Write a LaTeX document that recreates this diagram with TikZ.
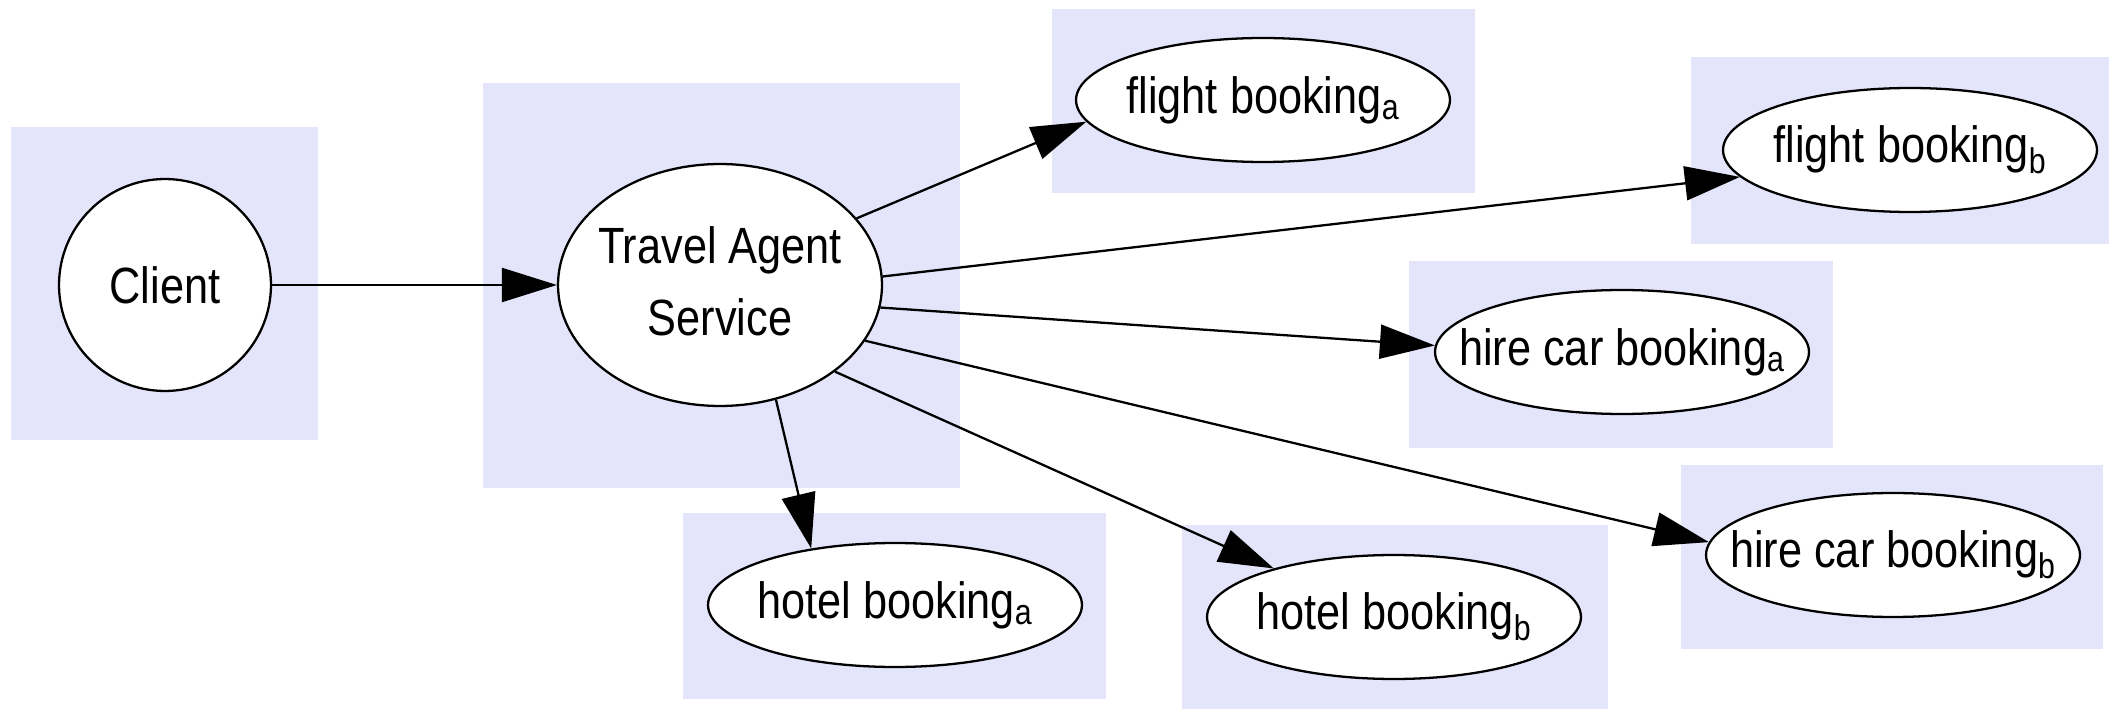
\documentclass[tikz,border=0pt]{standalone}
\usepackage{fontspec}
\setmainfont[FakeStretch=0.85]{Liberation Sans}
\usetikzlibrary{shapes.geometric,arrows.meta}

\definecolor{lav}{RGB}{228,228,250}

\newcommand{\booklabel}[2]{\makebox[0pt]{#1\textsubscript{#2}}}

\tikzset{
  cluster/.style={fill=lav},
  booking/.style={ellipse,draw,fill=white,line width=1.3pt,inner sep=0pt,
    minimum width=7.48cm,minimum height=2.48cm},
  flow/.style={-{Triangle[length=1.1cm,width=0.68cm]},line width=1.3pt}
}

\begin{document}
\begin{tikzpicture}[x=0.02cm,y=-0.02cm,font=\fontsize{29}{41}\selectfont]
          \useasboundingbox (0,0) rectangle (2109,709);
          %shaded boxes

          \fill[cluster] (11,127) rectangle (318,440);
          \fill[cluster] (483,83) rectangle (960,488);
          \fill[cluster] (1052,9) rectangle (1475,193);
          \fill[cluster] (1691,57) rectangle (2109,244);
          \fill[cluster] (1409,261) rectangle (1833,448);
          \fill[cluster] (1681,465) rectangle (2103,649);
          \fill[cluster] (683,513) rectangle (1106,699);
          \fill[cluster] (1182,525) rectangle (1608,709);

          \node[circle,draw,fill=white,line width=1.3pt,inner sep=0pt,minimum size=4.24cm] (client) at (165,285) {Client};
          \node[ellipse,draw,fill=white,line width=1.3pt,inner sep=0pt,minimum width=6.48cm,minimum height=4.84cm] (tas) at (720,285)
            {\makebox[0pt]{\begin{tabular}{@{}c@{}}Travel Agent\\Service\end{tabular}}};
          \node[booking] (flightA) at (1263,100) {\booklabel{flight booking}{a}};
          \node[booking] (flightB) at (1910,150) {\booklabel{flight booking}{b}};
          \node[booking] (hireA) at (1622,352) {\booklabel{hire car booking}{a}};
          \node[booking] (hireB) at (1893,555) {\booklabel{hire car booking}{b}};
          \node[booking] (hotelA) at (895,605) {\booklabel{hotel booking}{a}};
          \node[booking] (hotelB) at (1394,617) {\booklabel{hotel booking}{b}};

          \draw[flow] (client) -- (tas);
          \draw[flow] (tas.26) -- (flightA.187);
          \draw[flow] (tas.3) -- (flightB.189);
          \draw[flow] (tas.-8) -- (hireA.178);
          \draw[flow] (tas.-21) -- (hireB.176);
          \draw[flow] (tas.-37) -- (hotelB.158);
          \draw[flow] (tas.-64) -- (hotelA.146);
\end{tikzpicture}
\end{document}
